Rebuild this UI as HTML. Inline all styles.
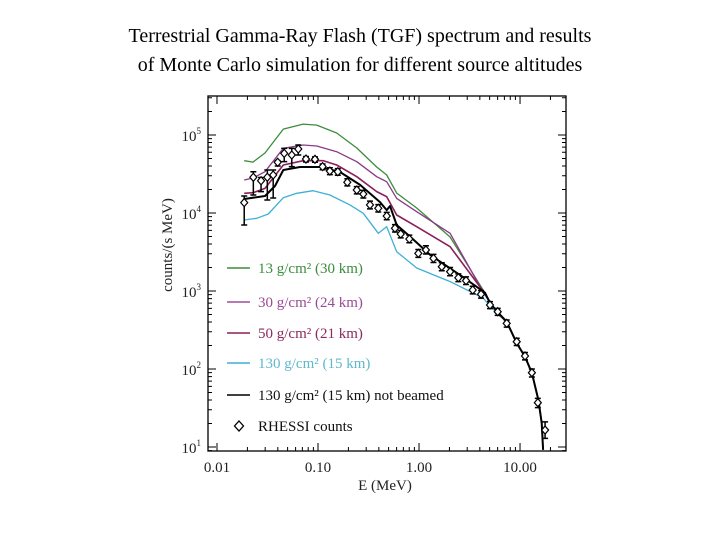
<!DOCTYPE html>
<html><head><meta charset="utf-8"><style>
body{margin:0;background:#fff;}
#wrap{width:720px;height:540px;position:relative;font-family:"Liberation Serif",serif;}
.title{position:absolute;left:0;width:720px;text-align:center;font-size:20px;color:#000;}
</style></head><body>
<div id="wrap">
<div class="title" style="top:25px">Terrestrial Gamma-Ray Flash (TGF) spectrum and results</div>
<div class="title" style="top:54px">of Monte Carlo simulation for different source altitudes</div>
<svg id="svg" width="720" height="540" style="position:absolute;left:0;top:0"></svg>
</div>
<script>
const gE=[0.0186,0.0227,0.0299,0.0453,0.0714,0.097,0.153,0.242,0.381,0.479,0.601,0.948,2.03,4.31,5.88,7.38,9.27,11.2,13.1,15.2,16.4,16.9];
const gC=[46900,44900,58800,119000,138000,134000,106000,68100,38900,30700,18000,11600,4920,1030,522,404,215,144,88.9,40.1,20.3,9.2];
const pE=[0.0186,0.0227,0.0299,0.0453,0.0714,0.097,0.153,0.242,0.381,0.479,0.601,0.948,2.03,4.31,5.88,7.38,9.27,11.2,13.1,15.2,16.4,16.9];
const pC=[26500,28100,33800,67500,74500,72300,61100,45500,29200,25200,15400,10400,5490,971,522,404,215,144,88.9,40.1,20.3,9.2];
const mE=[0.0186,0.0227,0.0299,0.0453,0.0714,0.113,0.153,0.242,0.381,0.479,0.601,0.948,2.03,4.31,5.88,7.38,9.27,11.2,13.1,15.2,16.4,16.9];
const mC=[17900,18200,20700,41200,46900,46900,41200,29200,18800,16200,9420,6670,3700,1000,522,404,215,144,88.9,40.1,20.3,9.2];
const cE=[0.0186,0.0247,0.0322,0.0453,0.0615,0.0897,0.131,0.207,0.281,0.395,0.479,0.601,0.948,2.03,4.31,5.88,7.38,9.27,11.2,13.1,15.2,16.4,16.9];
const cC=[8130,8550,9710,15700,17900,19300,17000,12700,9910,5490,6670,3190,1970,1320,813,522,404,215,144,88.9,40.1,20.3,9.2];
const kE=[0.0186,0.0299,0.0375,0.0453,0.0664,0.105,0.165,0.261,0.411,0.479,0.516,0.601,0.815,1.29,2.55,4.50,5.04,6.10,7.38,9.27,11.2,13.1,15.2,16.4,16.9];
const kC=[15100,16500,22200,35600,38900,38900,33600,22900,13800,10900,12300,7020,5000,2900,1600,950,701,522,404,215,144,88.9,40.1,20.3,9.2];
const dE=[0.0186,0.0229,0.0273,0.0315,0.0360,0.0399,0.0463,0.0550,0.0638,0.0760,0.0933,0.111,0.131,0.157,0.195,0.242,0.281,0.327,0.395,0.479,0.578,0.659,0.802,0.984,1.17,1.39,1.68,2.03,2.45,2.92,3.40,4.11,5.04,6.01,7.38,9.27,11.2,13.1,15.0,17.7];
const dC=[13600,28700,25900,28700,30700,44700,58200,55400,66200,49200,48800,39300,34500,33800,24800,19700,17500,12700,11500,9160,6370,5380,4640,3040,3360,2620,2050,1770,1480,1360,1030,908,662,543,385,224,147,89.7,37.0,16.5];
const dHi=[16500,33800,28500,35600,35600,47000,67500,67500,74500,53000,52500,42500,38000,37000,27500,21800,19500,14200,12800,10200,7100,6000,5200,3400,3800,2950,2300,2000,1660,1520,1150,1010,730,600,425,248,163,100,42,21];
const dLo=[7020,17000,18800,14700,15600,40000,45500,39300,55400,45000,44800,35800,31000,30500,22300,17600,15600,11300,10300,8200,5700,4800,4150,2700,2980,2320,1820,1570,1320,1210,920,810,595,488,345,200,131,79,32,12.9];
const xTicks=[0.01,0.1,1,10];
const xTickLabels=["0.01","0.10","1.00","10.00"];
const yTicks=[10,100,1000,10000,100000];
const yTickExp=["1","2","3","4","5"];
const legendLabels=["13 g/cm² (30 km)","30 g/cm² (24 km)","50 g/cm² (21 km)","130 g/cm² (15 km)","130 g/cm² (15 km) not beamed","RHESSI counts"];

const NS="http://www.w3.org/2000/svg";
const svg=document.getElementById('svg');
const L=208,R=566,T=96,B=451;
const xMinL=-2.089,xMaxL=1.455,yMinL=0.949,yMaxL=5.5;
function X(e){return L+(Math.log10(e)-xMinL)/(xMaxL-xMinL)*(R-L);}
function Y(c){return B-(Math.log10(c)-yMinL)/(yMaxL-yMinL)*(B-T);}
function mk(tag,attrs,parent){const el=document.createElementNS(NS,tag);for(const k in attrs)el.setAttribute(k,attrs[k]);(parent||svg).appendChild(el);return el;}

let fr=mk('rect',{x:L,y:T,width:R-L,height:B-T,fill:'none',stroke:'#000','stroke-width':1.3});


for(let d=-2;d<=1;d++){for(let m=1;m<=9;m++){const v=m*Math.pow(10,d);const lg=Math.log10(v);if(lg<xMinL||lg>xMaxL)continue;const x=X(v);const len=m===1?8:4;
 let t=mk('path',{d:`M${x},${B}v${-len}M${x},${T}v${len}`,stroke:'#000','stroke-width':1});
 
 }}
for(let d=0;d<=5;d++){for(let m=1;m<=9;m++){const v=m*Math.pow(10,d);const lg=Math.log10(v);if(lg<yMinL||lg>yMaxL)continue;const y=Y(v);const len=m===1?8:4;
 let t=mk('path',{d:`M${L},${y}h${len}M${R},${y}h${-len}`,stroke:'#000','stroke-width':1});
 
 }}
xTicks.forEach((v,i)=>{let t=mk('text',{x:X(v),y:B+21,'text-anchor':'middle','font-size':15,'font-family':'Liberation Serif, serif',fill:'#222'});t.textContent=xTickLabels[i];
 
 });
yTicks.forEach((v,i)=>{let t=mk('text',{x:L-7,y:Y(v)+6,'text-anchor':'end','font-size':15,'font-family':'Liberation Serif, serif',fill:'#222'});
 const a=document.createElementNS(NS,'tspan');a.textContent='10';t.appendChild(a);
 const b=document.createElementNS(NS,'tspan');b.setAttribute('font-size','9');b.setAttribute('dy','-7');b.textContent=yTickExp[i];t.appendChild(b);
 
 });
let xt=mk('text',{x:385,y:490,'text-anchor':'middle','font-size':15,'font-family':'Liberation Serif, serif',fill:'#222'});xt.textContent='E (MeV)';


let yt=mk('text',{x:0,y:0,'text-anchor':'middle','font-size':15,'font-family':'Liberation Serif, serif',fill:'#222',transform:'translate(172,245) rotate(-90)'});yt.textContent='counts/(s MeV)';



const series=[[gE,gC,'#3d8c3d',1.3,'line-13gcm2'],[pE,pC,'#8a3a88',1.3,'line-30gcm2'],[mE,mC,'#8c1f5a',1.6,'line-50gcm2'],[cE,cC,'#3fb0d6',1.3,'line-130gcm2'],[kE,kC,'#000',2,'line-130gcm2-not-beamed']];
series.forEach(s=>{const d=s[0].map((e,i)=>(i?'L':'M')+X(e).toFixed(1)+','+Y(s[1][i]).toFixed(1)).join('');
 let p=mk('path',{d:d,fill:'none',stroke:s[2],'stroke-width':s[3],'stroke-linejoin':'round'});
 
 });
dE.forEach((e,i)=>{const x=X(e),y=Y(dC[i]);const g=mk('g',{});
 mk('path',{d:`M${x},${Y(dHi[i])}V${Y(dLo[i])}M${x-3},${Y(dHi[i])}h6M${x-3},${Y(dLo[i])}h6`,stroke:'#000','stroke-width':1.5},g);
 mk('path',{d:`M${x},${y-4}l3.5,4l-3.5,4l-3.5,-4z`,fill:'#fff',stroke:'#000','stroke-width':1.2},g);
 
 });
const lcol=['#3d8c3d','#a04f9c','#8c1f5a','#3fb0d6','#000'];
const tcol=['#3d8c3d','#9a4a94','#8c2a5e','#5fb8cc','#111','#111'];
const ly=[268,302,333,363,395,426];
legendLabels.forEach((lab,i)=>{const g=mk('g',{});
 if(i<5)mk('path',{d:`M227,${ly[i]}h23`,stroke:lcol[i],'stroke-width':i==4?1.6:1.4},g);
 else mk('path',{d:`M239,${ly[i]-5}l4.5,5l-4.5,5l-4.5,-5z`,fill:'#fff',stroke:'#000','stroke-width':1.3},g);
 const t=mk('text',{x:258,y:ly[i]+5,'font-size':15,'font-family':'Liberation Serif, serif',fill:tcol[i]},g);t.textContent=lab;
 
 });
</script>
</body></html>
